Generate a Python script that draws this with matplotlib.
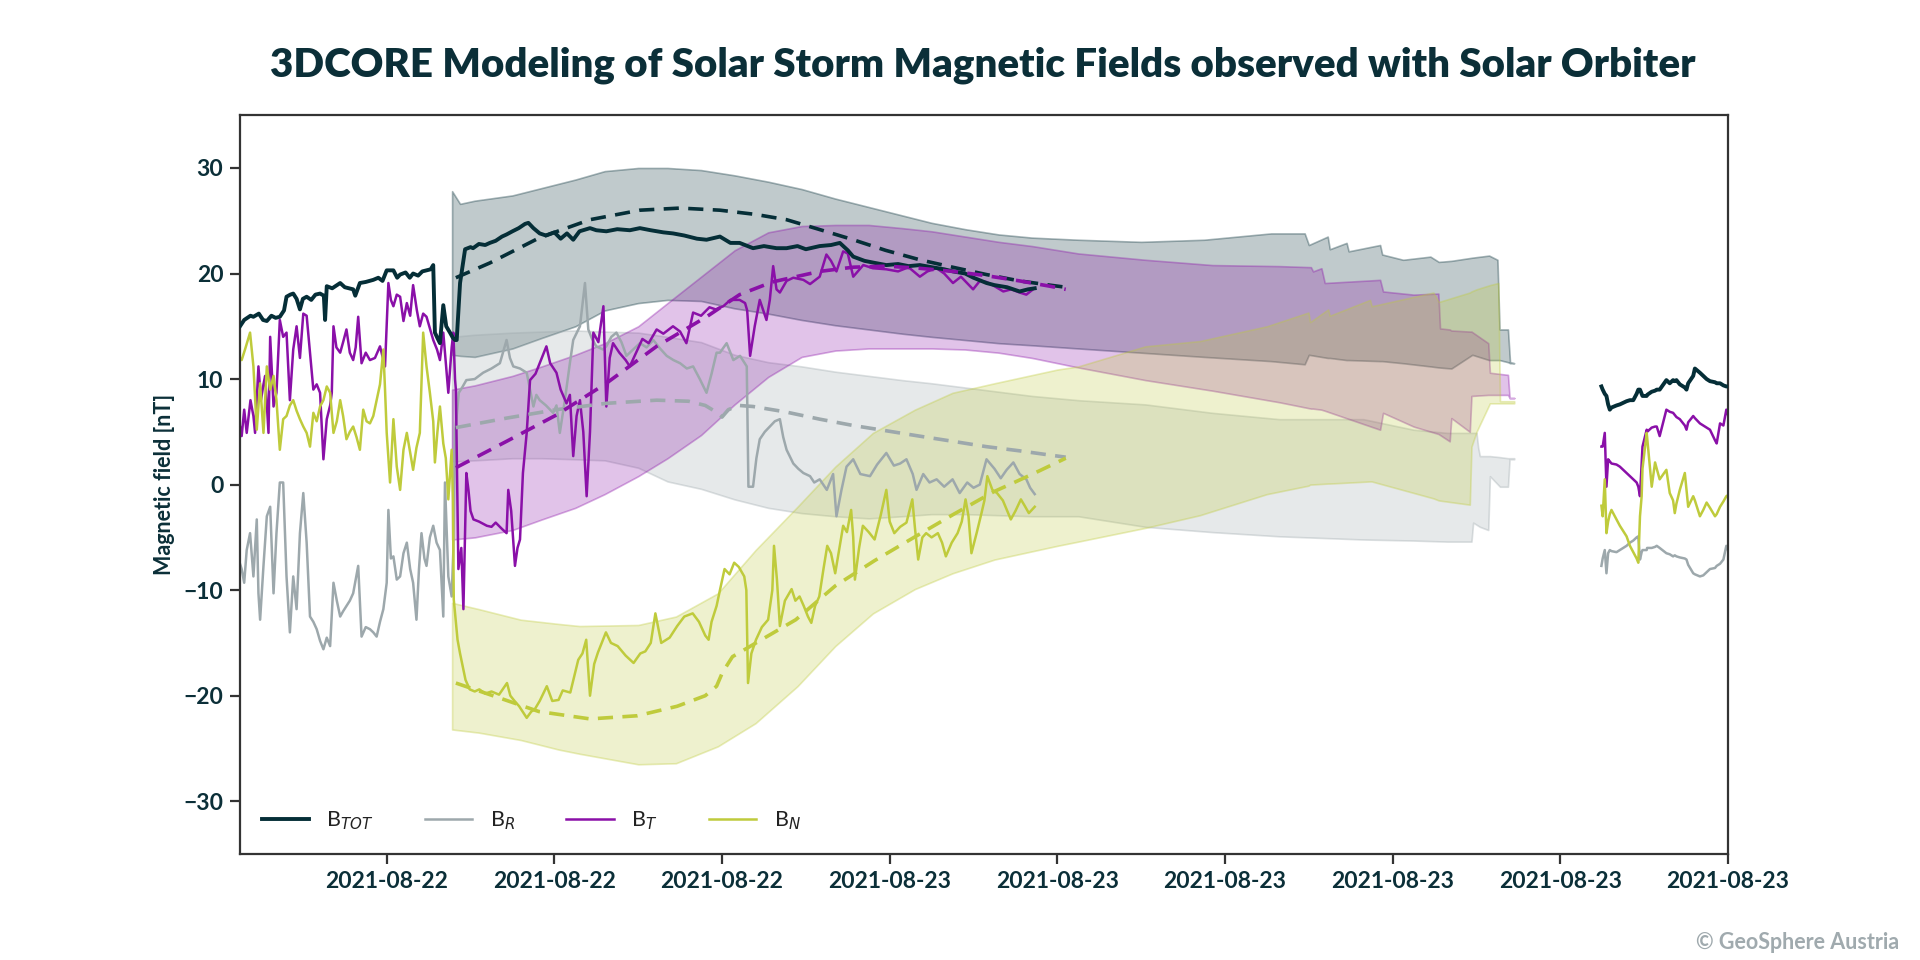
import numpy as np
import matplotlib
matplotlib.use("Agg")
import matplotlib.pyplot as plt
import matplotlib.dates as mdates
from matplotlib.colors import to_rgba

# =========================
# COLOURS / FONT
# =========================

plt.rcParams["font.family"] = ["Lato", "DejaVu Sans"]
plt.rcParams["mathtext.fontset"] = "dejavusans"

C_TOT = "#052E37"
C_R = "#9DA8AC"
C_T = "#8A10A8"
C_N = "#BFCB3C"
TEXT = "#0B2F38"

T0 = np.datetime64("2021-08-22T00:00")


def to_time(hours):
    return T0 + (np.asarray(hours) * 3600).astype("timedelta64[s]")


# =========================
# IN-SITU DATA (hours since 2021-08-22 00:00, nT)
# =========================

t_tot = [8.5, 8.6, 8.75, 8.82, 8.95, 9.05, 9.14, 9.25, 9.35, 9.45, 9.55, 9.61, 9.7, 9.77, 9.85, 9.93,
         10.0, 10.09, 10.2, 10.3, 10.41, 10.5, 10.53, 10.57, 10.7, 10.89, 11.0, 11.1, 11.2, 11.25, 11.36,
         11.5, 11.68, 11.8, 11.9, 12.0, 12.16, 12.25, 12.32, 12.45, 12.55, 12.63, 12.75, 12.85, 12.95,
         13.05, 13.11, 13.15, 13.22, 13.27, 13.35, 13.42, 13.51, 13.58, 13.63, 13.67, 13.75, 13.87, 14.0,
         14.06, 14.2, 14.35, 14.46, 14.6, 14.75, 14.86, 15.0, 15.15, 15.3, 15.38, 15.5, 15.65, 15.8, 16.0,
         16.15, 16.3, 16.45, 16.6, 16.85, 17.0, 17.24, 17.5, 17.8, 18.04, 18.3, 18.6, 18.83, 19.1, 19.4,
         19.63, 19.95, 20.2, 20.42, 20.74, 21.0, 21.3, 21.54, 21.8, 22.0, 22.33, 22.6, 22.81, 23.0, 23.13,
         23.4, 23.65, 23.92, 24.2, 24.45, 24.72, 25.0, 25.3, 25.51, 25.8, 26.0, 26.31, 26.5, 26.8, 27.1,
         27.3, 27.46]
b_tot = [15.0, 15.6, 16.0, 15.9, 16.2, 15.6, 15.5, 16.0, 15.8, 15.9, 16.5, 17.8, 18.0, 18.1, 17.6, 16.6,
         17.6, 17.8, 17.5, 18.0, 18.1, 17.9, 15.6, 18.8, 18.6, 19.1, 18.7, 18.6, 18.5, 17.9, 19.1,
         19.2, 19.4, 19.6, 19.3, 20.3, 20.3, 19.6, 19.9, 20.1, 19.6, 20.0, 19.8, 20.2, 20.3,
         20.4, 20.8, 14.4, 13.8, 13.4, 17.0, 15.0, 14.4, 13.9, 13.7, 13.7, 19.1, 22.3, 22.5,
         22.4, 22.8, 22.7, 22.9, 23.1, 23.5, 23.7, 24.0, 24.3, 24.7, 24.8, 24.3, 23.8, 23.6, 23.9,
         23.3, 23.8, 23.2, 24.0, 24.3, 24.1, 24.0, 24.2, 24.1, 24.3, 24.1, 23.9, 23.8, 23.6, 23.3,
         23.2, 23.5, 22.9, 22.9, 22.4, 22.6, 22.4, 22.4, 22.6, 22.3, 22.6, 22.7, 22.9, 22.2, 21.6,
         21.2, 21.0, 20.8, 20.9, 20.7, 20.8, 20.6, 20.4, 20.2, 20.0, 19.6, 19.1, 18.9, 18.7, 18.3,
         18.5, 18.6]

t_t = [8.5, 8.54, 8.6, 8.66, 8.75, 8.82, 8.86, 8.94, 9.0, 9.06, 9.1, 9.18, 9.22, 9.3, 9.37, 9.45, 9.53,
       9.61, 9.69, 9.77, 9.85, 9.93, 10.01, 10.09, 10.17, 10.25, 10.33, 10.41, 10.49, 10.57, 10.65, 10.69,
       10.73, 10.8, 10.89, 10.96, 11.04, 11.12, 11.2, 11.26, 11.32, 11.4, 11.5, 11.6, 11.72, 11.84, 11.96,
       12.04, 12.1, 12.16, 12.24, 12.32, 12.4, 12.48, 12.56, 12.63, 12.72, 12.79, 12.87, 12.95, 13.03,
       13.11, 13.2, 13.27, 13.35, 13.42, 13.47, 13.55, 13.59, 13.63, 13.65, 13.71, 13.78, 13.83, 13.9,
       13.95, 14.0, 14.07, 14.2, 14.39, 14.5, 14.6, 14.75, 14.86, 14.9, 14.97, 15.06, 15.12, 15.18, 15.25,
       15.34, 15.42, 15.55, 15.65, 15.81, 15.9, 16.05, 16.15, 16.29, 16.37, 16.45, 16.53, 16.61, 16.69,
       16.77, 16.85, 16.93, 17.05, 17.17, 17.24, 17.32, 17.4, 17.55, 17.7, 17.8, 17.95, 18.1, 18.25,
       18.44, 18.6, 18.83, 19.0, 19.15, 19.31, 19.5, 19.7, 19.85, 20.03, 20.2, 20.42, 20.55, 20.6, 20.67,
       20.78, 20.9, 21.06, 21.14, 21.22, 21.3, 21.38, 21.54, 21.7, 21.94, 22.1, 22.33, 22.49, 22.6, 22.73,
       22.89, 23.0, 23.13, 23.37, 23.6, 23.92, 24.2, 24.45, 24.72, 24.9, 25.12, 25.3, 25.51, 25.7, 25.99,
       26.15, 26.31, 26.5, 26.71, 26.9, 27.1, 27.26, 27.42]
b_t = [5.5, 4.6, 7.1, 4.9, 8.0, 6.5, 4.9, 11.2, 8.0, 9.5, 10.3, 4.9, 14.0, 7.4, 8.7, 15.6, 14.0,
       14.4, 8.0, 12.8, 15.0, 12.0, 16.2, 16.0, 12.5, 9.0, 9.5, 8.7, 2.4, 6.2, 7.5, 8.7,
       15.0, 13.0, 12.5, 13.5, 14.7, 12.5, 11.8, 13.0, 15.9, 11.5, 12.5, 11.8, 12.0, 13.1, 11.2,
       19.1, 17.5, 16.9, 18.0, 17.8, 15.5, 17.2, 16.0, 18.9, 16.5, 15.0, 16.2, 15.9, 14.8,
       13.7, 12.8, 11.8, 14.4, 11.0, 8.7, 13.0, 14.4, 10.0, 9.0, -8.0, -6.0, -11.8, 1.1,
       -0.5, -2.5, -3.3, -3.5, -3.9, -4.0, -3.6, -4.2, -4.6, -0.5, -2.5, -7.7, -6.0, -5.2, 1.1,
       4.9, 9.9, 10.5, 11.5, 13.1, 11.5, 10.6, 9.0, 7.7, 8.5, 2.7, 6.5, 8.0, 5.0,
       -1.1, 5.0, 14.4, 13.5, 16.9, 7.4, 12.0, 13.4, 12.5, 11.8, 11.2, 12.5, 13.8, 13.4,
       14.7, 14.3, 15.0, 14.5, 13.4, 16.3, 16.0, 16.8, 16.6, 16.9, 17.5, 17.5, 17.2, 16.5, 12.2,
       15.0, 17.5, 15.6, 17.5, 20.7, 18.5, 18.2, 19.3, 19.6, 19.4, 19.0, 19.7, 21.8, 21.2, 20.2,
       22.1, 21.9, 19.7, 20.8, 20.5, 20.4, 20.2, 20.6, 19.7, 20.2, 20.5, 20.0, 19.1, 19.7, 18.5,
       19.3, 19.2, 18.8, 18.3, 18.5, 18.2, 18.0, 18.5]

t_r = [8.5, 8.54, 8.6, 8.66, 8.74, 8.82, 8.9, 8.94, 8.98, 9.06, 9.14, 9.22, 9.3, 9.37, 9.45, 9.53, 9.61,
       9.69, 9.77, 9.85, 9.93, 10.01, 10.09, 10.17, 10.25, 10.33, 10.41, 10.49, 10.57, 10.65, 10.73, 10.81,
       10.89, 10.96, 11.04, 11.12, 11.2, 11.32, 11.4, 11.5, 11.6, 11.68, 11.76, 11.84, 11.92, 12.0, 12.04,
       12.1, 12.16, 12.24, 12.32, 12.4, 12.48, 12.56, 12.63, 12.71, 12.77, 12.83, 12.9, 12.95, 13.03,
       13.11, 13.19, 13.27, 13.35, 13.39, 13.47, 13.55, 13.59, 13.63, 13.67, 13.72, 13.8, 13.9, 14.1,
       14.3, 14.5, 14.7, 14.86, 14.94, 15.02, 15.18, 15.34, 15.42, 15.5, 15.57, 15.65, 15.8, 15.97, 16.05,
       16.13, 16.25, 16.37, 16.45, 16.61, 16.73, 16.81, 16.9, 17.0, 17.16, 17.24, 17.36, 17.48, 17.6,
       17.72, 17.88, 18.04, 18.2, 18.36, 18.52, 18.68, 18.84, 19.0, 19.16, 19.31, 19.47, 19.63, 19.75,
       19.87, 19.95, 20.11, 20.27, 20.43, 20.59, 20.63, 20.74, 20.82, 20.9, 21.02, 21.14, 21.26, 21.38,
       21.46, 21.54, 21.7, 21.82, 21.94, 22.1, 22.2, 22.33, 22.5, 22.65, 22.73, 22.85, 22.97, 23.13,
       23.3, 23.53, 23.7, 23.92, 24.1, 24.25, 24.4, 24.55, 24.64, 24.8, 24.95, 25.12, 25.3, 25.5, 25.67,
       25.85, 26.0, 26.15, 26.31, 26.5, 26.65, 26.79, 26.95, 27.1, 27.26, 27.35, 27.46]
b_r = [-7.5, -8.0, -9.3, -6.2, -4.6, -8.7, -3.3, -10.3, -12.8, -7.7, -3.0, -2.1, -10.3, -4.6, 0.2, 0.2, -8.7,
       -14.0, -8.7, -11.8, -4.6, -0.8, -5.5, -12.5, -13.0, -13.7, -14.8, -15.6, -14.5, -15.3, -9.3, -11.0,
       -12.5, -12.0, -11.5, -11.0, -10.3, -7.7, -14.4, -13.5, -13.7, -14.0, -14.4, -13.0, -11.8, -9.3, -2.4,
       -7.0, -6.8, -9.0, -8.7, -6.5, -5.5, -8.0, -9.3, -12.8, -8.0, -4.6, -7.0, -7.7, -5.0,
       -3.9, -5.5, -6.2, -12.5, 0.2, -8.7, -10.6, -6.2, 5.0, 6.5, 8.7, 9.2, 9.9, 10.0,
       10.6, 11.0, 11.5, 13.7, 12.0, 11.2, 11.0, 10.6, 9.0, 7.4, 8.5, 8.0, 7.5, 6.8, 7.5,
       4.9, 8.0, 11.5, 13.7, 15.0, 19.1, 14.7, 13.8, 13.1, 12.8, 13.1, 14.0, 14.4, 13.5,
       12.2, 12.8, 13.4, 13.0, 13.7, 12.9, 12.2, 11.8, 11.5, 11.0, 11.2, 10.0, 8.7, 10.5,
       12.5, 12.5, 13.4, 11.8, 12.2, 11.2, -0.2, -0.2, 2.5, 4.3, 5.0, 5.5, 6.0, 6.2,
       4.5, 3.3, 2.0, 1.5, 1.1, 0.8, 0.2, 0.5, -0.5, 1.0, -3.0, -0.5, 1.7, 2.4,
       1.0, 0.8, 1.9, 3.0, 1.8, 2.0, 2.4, 1.0, -0.5, 1.0, 0.2, 0.5, -0.2, 0.5, -0.8,
       0.2, -0.3, 0.0, 2.4, 1.5, 0.6, 1.4, 2.1, 1.0, 0.5, -0.3, -0.9]

t_n = [8.5, 8.54, 8.62, 8.74, 8.82, 8.9, 8.98, 9.06, 9.14, 9.22, 9.3, 9.37, 9.45, 9.53, 9.61, 9.69, 9.77,
       9.85, 9.93, 10.01, 10.09, 10.17, 10.25, 10.33, 10.41, 10.49, 10.57, 10.65, 10.73, 10.81, 10.89,
       10.96, 11.04, 11.12, 11.2, 11.28, 11.36, 11.44, 11.52, 11.6, 11.68, 11.76, 11.84, 11.92, 11.96,
       12.0, 12.08, 12.16, 12.24, 12.32, 12.4, 12.48, 12.56, 12.63, 12.71, 12.79, 12.87, 12.95, 13.03,
       13.11, 13.15, 13.21, 13.27, 13.35, 13.41, 13.47, 13.55, 13.58, 13.6, 13.69, 13.75, 13.88, 13.98,
       14.1, 14.21, 14.35, 14.5, 14.68, 14.87, 14.95, 15.05, 15.16, 15.34, 15.45, 15.53, 15.65, 15.82,
       15.95, 16.1, 16.2, 16.38, 16.57, 16.67, 16.76, 16.85, 16.95, 17.04, 17.23, 17.35, 17.51, 17.7,
       17.89, 18.05, 18.17, 18.3, 18.41, 18.5, 18.55, 18.75, 18.93, 19.1, 19.3, 19.45, 19.6, 19.68,
       19.75, 19.87, 19.95, 20.06, 20.18, 20.29, 20.4, 20.53, 20.58, 20.62, 20.7, 20.81, 20.95, 21.1,
       21.2, 21.24, 21.31, 21.38, 21.5, 21.66, 21.75, 21.85, 21.95, 22.05, 22.13, 22.22, 22.32, 22.42,
       22.51, 22.6, 22.7, 22.8, 22.89, 22.98, 23.08, 23.13, 23.17, 23.27, 23.36, 23.5, 23.64, 23.78,
       23.92, 24.0, 24.11, 24.25, 24.4, 24.54, 24.6, 24.68, 24.78, 24.87, 25.0, 25.15, 25.25, 25.34,
       25.48, 25.62, 25.72, 25.81, 25.88, 25.95, 26.08, 26.19, 26.26, 26.33, 26.45, 26.56, 26.7, 26.89,
       27.0, 27.13, 27.22, 27.32, 27.46]
b_n = [12.0, 11.8, 12.8, 14.4, 11.2, 5.2, 9.6, 4.9, 11.2, 9.0, 10.3, 8.0, 3.3, 6.2, 6.5, 7.5, 8.0,
       7.0, 6.2, 5.5, 4.9, 3.6, 6.8, 6.0, 7.4, 8.0, 9.3, 8.7, 4.9, 6.0, 8.0,
       6.5, 4.3, 5.0, 5.5, 4.5, 3.3, 7.1, 6.0, 5.8, 6.5, 8.0, 9.5, 12.8, 9.0,
       4.9, 0.2, 6.2, 1.7, -0.5, 3.3, 4.9, 3.0, 1.4, 3.5, 4.9, 14.4, 11.2, 8.7,
       6.0, 2.1, 5.0, 7.4, 3.9, 2.5, -1.4, 3.3, -1.4, -10.9, -14.7, -16.0, -18.5, -19.4,
       -19.6, -19.4, -19.8, -19.6, -19.9, -18.8, -20.0, -20.5, -21.0, -22.1, -21.5, -21.3, -20.5, -19.1,
       -20.5, -20.4, -19.5, -19.7, -16.6, -16.0, -14.7, -20.0, -17.0, -15.9, -14.0, -15.0, -15.3, -16.2,
       -16.9, -16.0, -15.8, -15.0, -12.2, -14.0, -15.0, -14.5, -13.4, -12.5, -12.2, -13.0, -14.3, -14.7,
       -13.0, -11.5, -10.0, -8.0, -8.5, -7.4, -7.8, -8.7, -10.0, -18.8, -16.0, -14.7, -13.5, -12.8,
       -10.0, -5.8, -9.0, -13.4, -11.0, -9.9, -11.0, -10.6, -11.5, -12.5, -13.1, -11.5, -10.6, -8.0,
       -5.8, -6.5, -8.4, -6.0, -3.9, -4.5, -2.4, -5.0, -9.0, -6.0, -3.9, -4.5, -5.2, -3.0,
       -0.5, -3.5, -4.6, -4.0, -3.6, -1.4, -4.0, -7.1, -5.0, -4.6, -5.0, -4.6, -5.5, -6.8,
       -5.5, -4.6, -3.5, -1.4, -3.0, -6.5, -4.5, -2.7, -1.5, 0.8, -0.5, -0.8, -1.5, -3.3,
       -2.5, -1.4, -2.0, -2.7, -2.1]

# second data segment
t_late = [40.98, 41.01, 41.06, 41.1, 41.14, 41.18, 41.22, 41.34, 41.42, 41.58, 41.66, 41.74, 41.82, 41.86,
          41.9, 41.94, 41.96, 42.06, 42.07, 42.18, 42.26, 42.3, 42.37, 42.53, 42.61, 42.69, 42.73, 42.77,
          42.85, 42.97, 43.01, 43.05, 43.17, 43.21, 43.33, 43.41, 43.49, 43.57, 43.69, 43.73, 43.81, 43.89,
          43.96, 44.0]
b_tot_late = [9.3, 9.0, 8.6, 8.4, 7.6, 7.1, 7.3, 7.5, 7.6, 7.9, 8.0, 8.0, 8.6, 9.0,
              9.0, 8.6, 8.4, 8.4, 8.5, 8.8, 8.9, 9.0, 9.0, 9.9, 9.6, 9.9, 9.8, 9.9,
              9.5, 9.2, 9.0, 9.6, 10.3, 11.0, 10.6, 10.3, 10.0, 9.8, 9.7, 9.6, 9.6, 9.4,
              9.3, 9.3]
b_t_late = [3.6, 3.6, 4.9, -0.2, 2.4, 2.2, 2.0, 1.9, 1.7, 1.1, 0.8, 0.5, 0.2, -0.2,
            -1.1, 2.0, 3.6, 5.2, 5.0, 5.4, 5.5, 5.5, 4.6, 7.1, 6.9, 6.8, 6.6, 6.4,
            6.2, 5.6, 5.2, 5.9, 6.5, 6.3, 5.8, 5.6, 5.4, 5.2, 4.2, 3.9, 5.8, 5.6,
            7.1, 6.6]
b_r_late = [-7.7, -7.0, -6.2, -8.4, -6.5, -6.2, -6.3, -6.4, -6.2, -5.8, -5.5, -5.3, -5.0, -4.9,
            -7.1, -6.4, -6.2, -6.2, -6.0, -6.0, -5.9, -5.8, -6.0, -6.5, -6.6, -6.8, -6.7, -6.8,
            -6.9, -7.0, -7.1, -7.6, -8.4, -8.5, -8.7, -8.6, -8.3, -8.0, -7.9, -7.7, -7.5, -7.1,
            -5.8, -6.2]
b_n_late = [-2.0, -3.0, 0.5, -4.6, -3.5, -2.8, -2.4, -3.3, -3.9, -4.9, -5.8, -6.4, -7.0, -7.4,
            -3.0, -1.1, 1.5, 4.9, 4.5, -0.2, 2.1, 1.5, 0.5, 1.4, -0.8, -1.5, -2.7, -1.8,
            -0.5, 1.1, -0.5, -2.1, -1.1, -1.5, -3.0, -2.4, -1.7, -2.2, -3.0, -2.8, -2.1, -1.6,
            -1.1, -1.0]

# =========================
# 3DCORE MODEL MEAN (dashed)
# =========================

t_m_tot = [13.65, 14.46, 15.65, 16.85, 18.04, 19.0, 19.95, 20.8, 21.54, 22.3, 23.13, 23.9, 24.72, 25.5,
           26.31, 27.1, 27.82, 28.2]
m_tot = [19.6, 21.0, 23.4, 25.1, 26.0, 26.2, 26.0, 25.6, 25.1, 24.2, 23.2, 22.2, 21.3, 20.6,
         19.9, 19.3, 18.9, 18.7]

t_m_t = [13.65, 14.86, 16.05, 17.24, 18.44, 19.63, 20.42, 21.2, 22.33, 23.13, 23.92, 24.7, 25.51, 26.3,
         27.1, 27.82, 28.2]
m_t = [1.6, 4.1, 6.6, 9.6, 13.1, 15.9, 18.0, 19.2, 20.2, 20.6, 20.7, 20.5, 20.2, 19.8,
       19.3, 18.8, 18.5]

t_m_r = [13.65, 14.86, 16.05, 17.24, 18.44, 19.2, 19.6, 19.85, 20.0, 20.15, 20.4, 20.74, 21.5, 22.33,
         23.13, 23.92, 24.7, 25.51, 26.3, 27.1, 27.82, 28.2]
m_r = [5.4, 6.3, 7.1, 7.7, 8.0, 7.9, 7.5, 6.9, 6.4, 7.1, 7.5, 7.4, 6.9, 6.2,
       5.6, 5.1, 4.6, 4.1, 3.6, 3.2, 2.8, 2.6]

t_m_n = [13.65, 14.68, 15.63, 16.85, 17.98, 18.93, 19.6, 19.87, 20.01, 20.25, 20.81, 21.76, 22.7, 23.64,
         24.58, 25.53, 26.47, 27.41, 28.2]
m_n = [-18.8, -20.2, -21.5, -22.2, -21.9, -21.0, -20.0, -19.1, -17.8, -16.3, -15.0, -12.8, -9.6, -7.2,
       -5.0, -2.8, -0.7, 1.0, 2.5]

# =========================
# ENSEMBLE SPREAD (bands)
# =========================

t_s_tot = [13.56, 13.75, 14.1, 15.0, 15.7, 16.5, 17.2, 18.0, 18.7, 19.5, 20.3, 21.1, 21.9, 22.7, 23.5,
           24.3, 25.0, 25.8, 26.6, 27.4, 28.5, 30.0, 31.5, 33.1, 33.9, 34.0, 34.45, 34.5, 34.9, 34.95,
           35.7, 35.75, 36.25, 36.9, 37.1, 37.4, 37.9, 38.3, 38.5, 38.55, 38.75, 38.8, 38.9]
hi_tot = [27.8, 26.6, 26.9, 27.4, 28.1, 28.9, 29.7, 30.0, 30.0, 29.8, 29.3, 28.7, 28.0, 27.1, 26.3,
          25.5, 24.8, 24.2, 23.7, 23.4, 23.2, 23.0, 23.2, 23.8, 23.8, 22.7, 23.5, 22.3, 22.9, 22.1,
          22.7, 21.8, 21.3, 21.6, 21.1, 21.2, 21.5, 21.7, 21.3, 14.7, 14.7, 11.6, 11.5]
lo_tot = [12.3, 12.2, 12.1, 12.9, 13.9, 15.0, 16.5, 17.2, 17.5, 17.4, 16.7, 16.2, 15.6, 15.1, 14.7,
          14.3, 14.0, 13.7, 13.4, 13.2, 12.9, 12.5, 12.1, 11.7, 11.4, 12.3, 12.0, 12.0, 11.8, 11.8,
          11.7, 11.7, 11.5, 11.2, 11.1, 11.0, 12.3, 11.8, 11.8, 11.8, 11.6, 11.5, 11.5]

t_s_t = [13.56, 14.1, 15.0, 15.7, 16.5, 17.2, 18.0, 18.7, 19.5, 20.3, 21.1, 21.9, 22.7, 23.5, 24.3,
         25.0, 25.8, 26.6, 27.4, 28.5, 30.1, 31.7, 33.3, 34.05, 34.1, 34.3, 34.38, 35.7, 35.77, 36.5,
         37.09, 37.13, 37.36, 37.4, 37.84, 37.88, 38.28, 38.32, 38.75, 38.79, 38.9]
hi_t = [9.0, 9.4, 10.3, 11.2, 12.3, 13.4, 15.0, 17.2, 19.7, 22.2, 23.9, 24.5, 24.6, 24.6, 24.3,
        24.0, 23.5, 23.0, 22.6, 21.9, 21.3, 20.8, 20.7, 20.6, 20.2, 20.5, 19.1, 19.4, 18.3, 18.0,
        18.1, 14.8, 14.7, 14.6, 14.5, 14.5, 13.4, 10.6, 10.4, 8.2, 8.2]
lo_t = [-5.2, -5.0, -4.3, -3.3, -2.2, -0.9, 0.8, 2.5, 4.7, 7.6, 10.2, 12.1, 12.7, 12.9, 12.9,
        12.9, 12.8, 12.5, 12.0, 11.1, 9.9, 8.9, 7.8, 7.2, 7.2, 7.1, 7.0, 5.2, 6.8, 5.5,
        4.8, 4.7, 4.1, 6.3, 5.0, 8.4, 8.5, 8.5, 8.5, 8.2, 8.2]

t_s_r = [13.56, 14.1, 15.0, 15.7, 16.5, 17.2, 18.0, 18.7, 19.5, 20.3, 21.1, 21.9, 22.7, 23.5, 24.3,
         25.0, 25.8, 26.6, 27.4, 28.5, 30.1, 31.7, 33.3, 35.3, 36.5, 37.3, 37.88, 37.92, 38.0, 38.04,
         38.08, 38.28, 38.32, 38.56, 38.75, 38.79, 38.9]
hi_r = [14.0, 14.2, 14.4, 14.5, 14.6, 14.5, 14.4, 14.0, 13.5, 12.3, 11.6, 11.2, 10.7, 10.3, 9.9,
        9.6, 9.2, 8.8, 8.4, 8.0, 7.6, 6.8, 6.2, 6.2, 5.2, 4.9, 4.9, 4.9, 4.9, 3.5,
        2.7, 2.7, 2.7, 2.6, 2.5, 2.5, 2.5]
lo_r = [2.2, 2.3, 2.5, 2.5, 2.4, 2.3, 1.6, 0.3, -0.4, -1.4, -2.2, -2.7, -3.0, -3.2, -3.0,
        -2.8, -2.8, -2.9, -3.0, -3.0, -4.0, -4.5, -4.9, -5.2, -5.3, -5.4, -5.4, -3.6, -3.8, -3.9,
        -4.0, -4.3, 0.8, -0.2, -0.2, 2.4, 2.4]

t_s_n = [13.56, 14.2, 15.2, 16.1, 16.6, 18.0, 18.9, 19.9, 20.8, 21.8, 22.7, 23.6, 24.6, 25.5, 26.5,
         28.0, 28.5, 30.1, 31.4, 33.0, 33.99, 34.03, 34.46, 34.5, 35.46, 35.5, 36.97, 37.1, 37.84, 37.88,
         38.0, 38.32, 38.52, 38.56, 38.9]
hi_n = [-11.2, -11.8, -12.8, -13.2, -13.4, -13.3, -12.5, -10.3, -6.2, -2.1, 1.7, 4.9, 7.1, 8.7, 9.6,
        10.9, 11.2, 13.1, 13.6, 15.0, 16.3, 15.4, 16.6, 16.0, 17.5, 16.9, 18.2, 17.3, 18.2, 18.3,
        18.5, 18.9, 19.1, 7.9, 7.9]
lo_n = [-23.2, -23.5, -24.2, -25.1, -25.5, -26.5, -26.4, -24.8, -22.6, -19.1, -15.3, -12.2, -9.9, -8.4, -7.1,
        -5.8, -5.4, -4.1, -2.9, -0.9, -0.1, 0.0, 0.1, 0.1, 0.3, 0.3, -1.3, -1.5, -1.9, 3.6,
        5.0, 7.7, 7.7, 7.7, 7.7]

# =========================
# FIGURE
# =========================

fig = plt.figure(figsize=(19.2, 9.6), dpi=100)
ax = fig.add_axes([0.125, 0.1104, 0.775, 0.7696])

bands = [
    (t_s_tot, lo_tot, hi_tot, C_TOT),
    (t_s_r, lo_r, hi_r, C_R),
    (t_s_t, lo_t, hi_t, C_T),
    (t_s_n, lo_n, hi_n, C_N),
]
for t, lo, hi, c in bands:
    ax.fill_between(to_time(t), lo, hi, facecolor=to_rgba(c, 0.25),
                    edgecolor=to_rgba(c, 0.35), linewidth=1.2, zorder=1)

dash = (0, (4.2, 2.6))
ax.plot(to_time(t_m_tot), m_tot, color=C_TOT, lw=2.6, ls=dash, zorder=4)
ax.plot(to_time(t_m_r), m_r, color=C_R, lw=2.6, ls=dash, zorder=4)
ax.plot(to_time(t_m_t), m_t, color=C_T, lw=2.6, ls=dash, zorder=4)
ax.plot(to_time(t_m_n), m_n, color=C_N, lw=2.6, ls=dash, zorder=4)

l_tot, = ax.plot(to_time(t_tot), b_tot, color=C_TOT, lw=2.8, zorder=3, label=r"B$_{TOT}$")
l_r, = ax.plot(to_time(t_r), b_r, color=C_R, lw=1.8, zorder=2, label=r"B$_{R}$")
l_t, = ax.plot(to_time(t_t), b_t, color=C_T, lw=1.8, zorder=2, label=r"B$_{T}$")
l_n, = ax.plot(to_time(t_n), b_n, color=C_N, lw=1.8, zorder=2, label=r"B$_{N}$")

ax.plot(to_time(t_late), b_r_late, color=C_R, lw=1.8, zorder=2)
ax.plot(to_time(t_late), b_t_late, color=C_T, lw=1.8, zorder=2)
ax.plot(to_time(t_late), b_n_late, color=C_N, lw=1.8, zorder=2)
ax.plot(to_time(t_late), b_tot_late, color=C_TOT, lw=2.8, zorder=3)

# =========================
# AXES STYLE
# =========================

ax.set_xlim(to_time(8.5), to_time(44.0))
ax.set_ylim(-35, 35)
ax.set_yticks([-30, -20, -10, 0, 10, 20, 30])
ax.xaxis.set_major_locator(mdates.HourLocator(byhour=[0, 4, 8, 12, 16, 20]))
ax.xaxis.set_major_formatter(mdates.DateFormatter("%Y-%m-%d"))

for s in ax.spines.values():
    s.set_color("#333333")
    s.set_linewidth(1.6)
ax.tick_params(axis="both", length=7, width=1.6, color="#333333",
               labelcolor=TEXT, labelsize=16.5, pad=5)
for lab in ax.get_xticklabels() + ax.get_yticklabels():
    lab.set_fontweight("bold")

ax.set_ylabel("Magnetic field [nT]", fontsize=15.5, fontweight="bold", color=TEXT, labelpad=6)

leg = ax.legend(handles=[l_tot, l_r, l_t, l_n], loc="lower left", ncol=4, frameon=False,
                fontsize=15.5, handlelength=2.2, columnspacing=2.4, borderaxespad=0.6,
                bbox_to_anchor=(0.0, 0.0))
for txt in leg.get_texts():
    txt.set_color("#222222")

fig.suptitle("3DCORE Modeling of Solar Storm Magnetic Fields observed with Solar Orbiter",
             x=0.512, y=0.952, fontsize=29, fontweight="heavy", color=TEXT)

fig.text(0.989, 0.018, "\u00a9 GeoSphere Austria", ha="right", va="center",
         fontsize=15.5, fontweight="bold", color="#A0AAAE")

fig.savefig("out.png", dpi=100)
